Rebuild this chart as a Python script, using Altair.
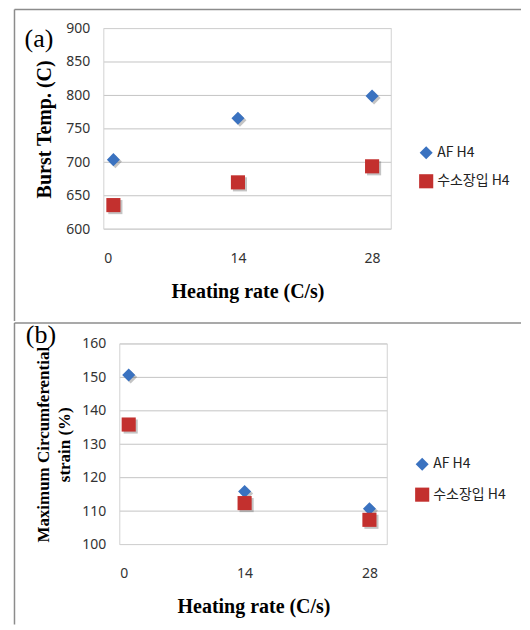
import altair as alt
import pandas as pd

# ---- data ----
heating_rate = [1, 14, 28]
series_names = ["AF H4", "수소장입 H4"]
burst_af = [704, 766, 799]
burst_h = [636, 670, 694]
strain_af = [150.7, 115.9, 110.7]
strain_h = [135.9, 112.4, 107.4]
x_ticks = [0, 14, 28]
burst_ticks = [600, 650, 700, 750, 800, 850, 900]
strain_ticks = [100, 110, 120, 130, 140, 150, 160]

BLUE = "#3A72C0"
RED = "#C3302E"
BORDER = "#8c8c8c"
GRID = "#c4c4c4"
FRAME = "#d2d2d2"


def frame(af, h):
    return pd.DataFrame({
        "rate": heating_rate * 2,
        "value": af + h,
        "series": [series_names[0]] * 3 + [series_names[1]] * 3,
    })


one = pd.DataFrame({"k": [0]})


def panel(df, width, x0, height, ydomain, yticks, ytitle, ytitle_pad, label_txt,
          label_xy, legend_xy, legend_rowpad, border, x_title_pad):
    base = alt.Chart(df)
    x = alt.X("rate:Q", scale=alt.Scale(domain=[0, 30], nice=False, range=[x0, width]),
              axis=alt.Axis(values=x_ticks, grid=False, ticks=False, domain=False,
                            labelPadding=22, title="Heating rate (C/s)",
                            titleFont="Liberation Serif", titleFontSize=20,
                            titleFontWeight="bold", titleColor="#000",
                            titleX=(x0 + width) / 2,
                            titlePadding=x_title_pad, labelFont="Noto Sans",
                            labelFontSize=14, labelColor="#333"))
    y = alt.Y("value:Q", scale=alt.Scale(domain=ydomain, nice=False, zero=False),
              axis=alt.Axis(values=yticks, grid=False, offset=-x0,
                            ticks=False, domain=False, labelPadding=14,
                            title=ytitle, titleFont="Liberation Serif",
                            titleFontSize=20 if isinstance(ytitle, str) else 17,
                            titleFontWeight="bold", titleColor="#000",
                            titlePadding=ytitle_pad, titleLineHeight=21,
                            labelFont="Noto Sans", labelFontSize=14,
                            labelColor="#333"))
    grid = alt.Chart(pd.DataFrame({"value": yticks})).mark_rule(
        color=GRID, strokeWidth=1).encode(y=y, x=alt.value(x0), x2=alt.value(width))
    box = alt.Chart(one).mark_rect(fillOpacity=0, stroke=FRAME, strokeWidth=1).encode(
        x=alt.value(x0), x2=alt.value(width), y=alt.value(0), y2=alt.value(height))
    shadow_d = base.transform_filter(alt.datum.series == series_names[0]).mark_point(
        shape="diamond", filled=True, size=170, color="#555", opacity=0.35,
        xOffset=2, yOffset=2).encode(x=x, y=y)
    shadow_s = base.transform_filter(alt.datum.series == series_names[1]).mark_point(
        shape="square", filled=True, size=200, color="#555", opacity=0.35,
        xOffset=2, yOffset=2).encode(x=x, y=y)
    pts = base.mark_point(filled=True, opacity=1).encode(
        x=x, y=y,
        color=alt.Color("series:N", scale=alt.Scale(domain=series_names, range=[BLUE, RED]),
                        legend=alt.Legend(orient="none", legendX=legend_xy[0],
                                          legendY=legend_xy[1], title=None,
                                          labelFont="Noto Sans CJK KR",
                                          labelFontSize=14, labelColor="#222",
                                          symbolSize=50, rowPadding=legend_rowpad,
                                          padding=0, labelOffset=3)),
        shape=alt.Shape("series:N", scale=alt.Scale(domain=series_names,
                                                    range=["diamond", "square"])),
        size=alt.Size("series:N", scale=alt.Scale(domain=series_names, range=[170, 200]),
                      legend=None),
    )
    lbl = alt.Chart(one).mark_text(font="Liberation Serif", fontSize=26, align="center",
                                   baseline="middle", color="#000").encode(
        x=alt.value(label_xy[0]), y=alt.value(label_xy[1]), text=alt.value(label_txt))
    bl, bt, bb, br = border
    left = alt.Chart(one).mark_rule(color=BORDER, strokeWidth=1.5).encode(
        x=alt.value(bl), y=alt.value(bt), y2=alt.value(bb))
    top = alt.Chart(one).mark_rule(color=BORDER, strokeWidth=1.5).encode(
        x=alt.value(bl), x2=alt.value(br), y=alt.value(bt))
    return alt.layer(left, top, grid, box, shadow_d, shadow_s, pts, lbl).properties(
        width=width, height=height)


pa = panel(frame(burst_af, burst_h), 288, 0, 201, [600, 900], burst_ticks,
           "Burst Temp. (C)", 11, "(a)", (-65, 10), (315, 117), 13,
           (-89.5, -19, 293, 418), 16)
pb = panel(frame(strain_af, strain_h), 284, 16, 201, [100, 160], strain_ticks,
           ["Maximum Circumferential", "strain (%)"], 8, "(b)", (-63, -9),
           (311, 113), 15, (-89.5, -21, 281, 418), 16)

chart = alt.vconcat(pa, pb, spacing=0).resolve_scale(
    x="independent", y="independent", color="independent", shape="independent",
    size="independent").resolve_legend(
    color="independent", shape="independent", size="independent").configure(
    padding={"left": 5, "top": 0, "right": 0, "bottom": 0}).configure_view(
    strokeOpacity=0)

chart.save("out.html", embed_options={"renderer": "svg", "actions": False})
